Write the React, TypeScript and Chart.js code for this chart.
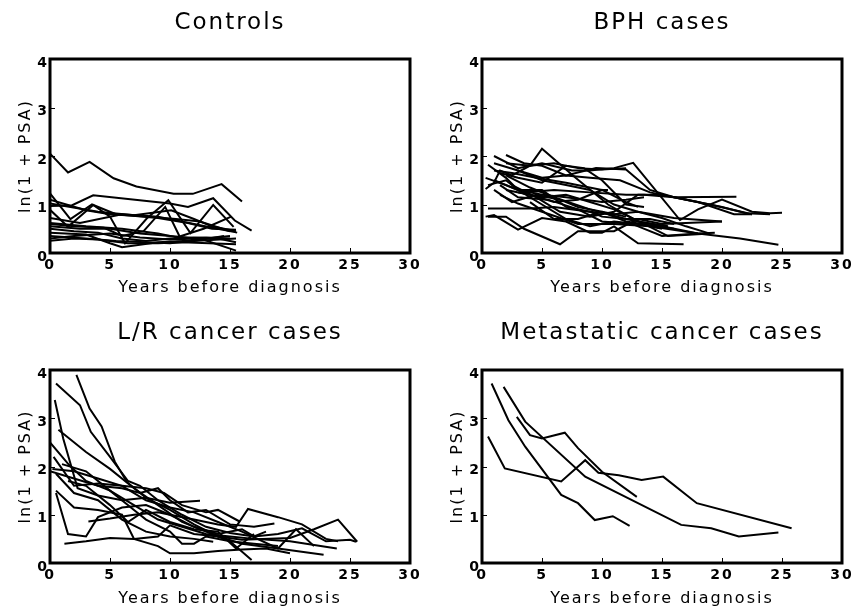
import React, { useEffect, useRef } from "react";
import { Chart, registerables } from "chart.js";

Chart.register(...registerables);

type Pt = [number, number];

const xTicks = [0, 5, 10, 15, 20, 25, 30];
const yTicks = [0, 1, 2, 3, 4];
const xAxisTitle = "Years before diagnosis";
const yAxisTitle = "ln(1 + PSA)";
const panelTitles = ["Controls", "BPH cases", "L/R cancer cases", "Metastatic cancer cases"];

const controlsLines: Pt[][] = [
  [[0, 2.05], [1.5, 1.66], [3.3, 1.88], [5.3, 1.54], [7.2, 1.37], [10.3, 1.22], [11.9, 1.22], [14.3, 1.42], [16, 1.06]],
  [[0, 1.23], [1.7, 0.7], [3.5, 1.0], [5.5, 0.8], [9, 0.72], [11.5, 0.62], [13.5, 0.5], [15.5, 0.48]],
  [[0, 0.97], [1.8, 0.98], [3.6, 1.19], [10, 1.02], [11.5, 0.95], [13.6, 1.13], [15.4, 0.67], [16.8, 0.46]],
  [[0, 1.1], [3, 0.88], [5, 0.8], [8, 0.75], [10.5, 0.7], [12.5, 0.65], [15, 0.45]],
  [[0, 0.89], [1.5, 0.54], [3.6, 0.99], [5, 0.75], [6.25, 0.2], [8.06, 0.71], [9.86, 1.09], [11.7, 0.41], [13.6, 0.99], [15.3, 0.54]],
  [[0, 0.6], [2, 0.55], [4.5, 0.52], [6, 0.35], [7.8, 0.45], [9.6, 0.95], [10.8, 0.34], [12.8, 0.5], [15.1, 0.75]],
  [[0, 1.02], [4, 0.85], [7, 0.78], [10.1, 0.88], [12, 0.7], [13.5, 0.55], [15.5, 0.45]],
  [[0, 0.72], [2.5, 0.62], [6, 0.8], [9, 0.75], [12, 0.6], [15.6, 0.42]],
  [[0, 0.5], [2, 0.45], [4, 0.42], [6, 0.3], [8, 0.25], [10, 0.3], [12, 0.25], [15.5, 0.3]],
  [[0, 0.42], [3, 0.38], [5, 0.2], [6, 0.12], [9, 0.22], [11, 0.25], [13, 0.3], [15, 0.35]],
  [[0, 0.35], [3, 0.3], [5.5, 0.25], [8, 0.22], [10, 0.2], [12, 0.25], [14.5, 0.35]],
  [[0, 0.25], [2, 0.3], [4, 0.28], [6.5, 0.2], [9, 0.2], [11, 0.22], [15.5, 0.18]],
  [[0, 0.55], [2.5, 0.5], [5, 0.5], [7.5, 0.4], [10, 0.35], [12.5, 0.3], [15.5, 0.05]],
  [[0, 0.3], [2, 0.35], [5, 0.4], [7.5, 0.32], [10, 0.28], [12, 0.32], [14, 0.3], [15.5, 0.22]],
  [[0, 0.62], [3, 0.55], [6, 0.5], [9, 0.4], [11, 0.3], [13, 0.32], [15, 0.3]],
];

const bphLines: Pt[][] = [
  [[0.3, 1.32], [1, 1.45], [1.5, 1.7], [2.5, 1.6], [4, 1.8], [5, 2.15], [7.8, 1.55], [10.5, 1.0], [13, 0.65], [15.5, 0.55]],
  [[0.5, 1.82], [2, 1.55], [3, 1.3], [5, 1.2], [7, 1.15], [10, 1.05], [12, 1.1], [13.5, 1.15]],
  [[1, 2.0], [3, 1.75], [5, 1.85], [7.5, 1.7], [9, 1.7], [11, 1.75], [12.6, 1.86], [16.5, 0.68], [18, 0.9], [20, 1.1], [22.5, 0.85], [24, 0.82], [25, 0.83]],
  [[2, 2.02], [3.5, 1.85], [5, 1.8], [7, 1.6], [9.5, 1.75], [12, 1.72], [14, 1.3], [16, 1.15], [21.2, 1.16]],
  [[1, 1.85], [3, 1.7], [5, 1.55], [7, 1.6], [9, 1.55], [11.5, 1.5], [14, 1.25], [17, 1.1], [20, 0.95], [22, 0.82], [24, 0.8]],
  [[0.3, 1.55], [2, 1.4], [3.5, 1.25], [6, 1.3], [9, 1.25], [12, 1.2], [13.5, 1.2], [16, 1.15], [19, 1.0], [22.5, 0.8]],
  [[0.5, 0.75], [2, 0.75], [3.5, 0.5], [6.5, 0.18], [8, 0.45], [11, 0.45], [13, 0.7], [15, 0.6], [20, 0.65]],
  [[0.5, 0.92], [4, 0.92], [6, 0.95], [9, 0.85], [11, 0.8], [13, 0.85], [15, 0.72], [17, 0.55], [19, 0.4]],
  [[0.3, 0.75], [1, 0.78], [3, 0.48], [5, 0.72], [7, 0.65], [9, 0.42], [10, 0.42], [11, 0.55], [13, 0.2], [16.8, 0.18]],
  [[1.5, 1.2], [3, 1.02], [5, 0.85], [8, 0.6], [11, 0.6], [14, 0.55], [18, 0.4], [19.4, 0.42]],
  [[2, 1.6], [4, 1.35], [6, 1.15], [9, 0.9], [12, 0.7], [15, 0.55], [18, 0.4], [21.5, 0.3], [24.7, 0.17]],
  [[1.5, 1.65], [3, 1.55], [5, 1.45], [7, 1.8], [8.5, 1.75], [10, 1.5], [12, 1.0], [13.5, 0.95]],
  [[1, 1.7], [2.5, 1.65], [4.5, 1.55], [7, 1.45], [10, 1.3], [10.5, 1.3]],
  [[2, 1.3], [4, 1.2], [6, 1.05], [8, 1.1], [10, 1.3], [12, 1.05], [13, 0.95]],
  [[1, 1.5], [3, 1.3], [5, 1.3], [7, 0.95], [9, 0.85], [10, 0.75], [12, 0.7], [14, 0.7], [16, 0.6]],
  [[3, 1.7], [5, 1.5], [7, 1.4], [9, 1.3], [11, 1.0], [13, 0.85], [16, 0.72], [20, 0.65]],
  [[1.5, 1.4], [3, 1.15], [5.5, 1.1], [8, 0.9], [10, 0.65], [12.5, 0.6], [15, 0.35], [18, 0.4]],
  [[2.5, 1.4], [4.5, 1.15], [6.5, 0.85], [9, 0.75], [11, 0.85], [13, 1.2], [15, 1.2], [18, 1.05], [21, 0.8], [22.5, 0.8]],
  [[0.5, 1.4], [2, 1.5], [3, 1.3], [5, 1.0], [7, 0.7], [9, 0.55], [11, 0.65], [13, 0.6], [15, 0.5]],
  [[2, 1.85], [4, 1.8], [6, 1.85], [8, 1.75], [10, 1.72], [12, 1.75]],
  [[3, 1.25], [5, 1.15], [7, 1.2], [9, 1.05], [11, 0.9], [13.5, 0.6], [15.5, 0.35], [19, 0.4]],
  [[1, 1.3], [2.5, 1.05], [4.5, 1.2], [6.5, 1.1], [8, 0.95], [10, 0.85], [12, 0.75]],
  [[4, 1.05], [6, 0.7], [8, 0.7], [10, 0.85], [12, 0.65], [14.5, 0.55], [16, 0.5]],
];

const lrLines: Pt[][] = [
  [[2.2, 3.9], [3.3, 3.2], [4.3, 2.83], [5.4, 2.1], [6.4, 1.68], [8, 1.35], [10, 1.1], [12, 0.8], [14, 0.55], [16, 0.4], [19, 0.3], [22.8, 0.17]],
  [[0.5, 3.72], [2.5, 3.27], [3.4, 2.72], [5, 2.2], [6.5, 1.7], [7.5, 1.6], [9, 1.3], [11, 1.0], [13, 0.75], [15, 0.62], [17, 0.55], [19, 0.6], [21, 0.72], [23, 0.45], [25, 0.48], [25.5, 0.44]],
  [[0.4, 3.38], [1.1, 2.58], [2.3, 1.55], [4, 1.4], [6, 1.3], [8, 1.35], [10, 1.25], [12.5, 1.29]],
  [[0.7, 2.76], [3, 2.3], [5, 1.95], [7, 1.55], [9, 1.2], [11, 0.85], [13, 0.65], [15, 0.45], [16.8, 0.06]],
  [[0, 2.5], [1.6, 2.03], [3, 1.7], [5, 1.5], [7, 1.2], [9, 0.9], [11, 0.75], [13, 0.6], [15, 0.55], [17, 0.5], [20, 0.45], [23.9, 0.3]],
  [[0, 1.9], [2, 1.75], [4, 1.6], [6, 1.55], [7.5, 1.45], [9, 1.55], [10, 1.3], [11.5, 1.05], [13, 1.1], [15, 0.8], [17, 0.75], [18.7, 0.82]],
  [[0.3, 2.2], [2, 1.6], [4, 1.65], [6, 1.6], [8, 1.55], [9.5, 1.45], [11, 1.2], [13, 1.05], [14, 1.1], [15.8, 0.86]],
  [[0.5, 1.45], [1.5, 0.6], [3, 0.55], [4, 0.95], [6, 1.15], [8, 1.2], [10, 1.0], [12, 0.75], [14, 0.6], [16, 0.7], [17, 0.55], [18, 0.65]],
  [[1.2, 0.4], [3, 0.45], [5, 0.52], [7, 0.5], [9, 0.55], [10, 0.78], [12, 0.6], [14, 0.55], [16, 0.48], [20, 0.52], [22, 0.7], [24, 0.9], [25.6, 0.44]],
  [[3.2, 0.86], [5, 0.92], [7, 1.0], [9, 1.05], [10, 1.0], [12, 0.9], [14, 0.8], [15.5, 0.75], [16.5, 1.12], [19, 0.95], [21, 0.8], [23, 0.5], [24, 0.45]],
  [[0.2, 1.95], [2, 1.9], [4, 1.75], [6, 1.6], [8, 1.3], [10, 1.15], [12, 1.05], [14, 0.85], [16, 0.65], [19, 0.3], [20.5, 0.7], [22, 0.35]],
  [[0.5, 1.85], [2, 1.45], [4, 1.3], [6, 0.9], [8, 0.65], [10, 0.55], [12, 0.5], [13.6, 0.44]],
  [[0.5, 1.5], [2, 1.15], [4, 1.1], [6, 1.0], [7, 0.5], [9, 0.35], [10, 0.2], [12, 0.2], [14, 0.25], [16, 0.28], [18, 0.3], [20, 0.2]],
  [[1, 2.05], [3, 1.9], [5, 1.5], [7, 1.1], [8, 0.9], [10, 0.65], [11, 0.4], [12, 0.4], [13, 0.55], [15, 0.45], [17, 0.4], [19, 0.35]],
  [[1.5, 1.7], [3, 1.6], [5, 1.2], [6.5, 0.85], [8, 1.1], [10, 0.85], [12, 0.7], [14, 0.65], [15.5, 0.3], [17, 0.6]],
];

const metLines: Pt[][] = [
  [[0.8, 3.72], [2.2, 2.96], [3.6, 2.41], [6.6, 1.41], [8, 1.24], [9.4, 0.89], [10.9, 0.97], [12.3, 0.77]],
  [[1.8, 3.65], [3.6, 2.93], [8.6, 1.79], [16.6, 0.79], [19.1, 0.72], [21.4, 0.55], [24.7, 0.63]],
  [[0.5, 2.62], [1.9, 1.96], [6.6, 1.69], [8.6, 2.13], [9.7, 1.87], [11.4, 1.82], [13.3, 1.72], [15.1, 1.79], [17.9, 1.24], [25.8, 0.72]],
  [[2.9, 3.03], [4, 2.65], [5, 2.58], [6.9, 2.7], [8, 2.38], [10, 1.89], [12.9, 1.37]],
];

const FONT = "'DejaVu Sans', sans-serif";

type PanelProps = {
  lines: Pt[][];
  title: string;
  left: number;
  top: number;
  width: number;
  height: number;
  topH: number;
  bottomH: number;
  rightPad: number;
  titlePad: number;
  xTitlePad: number;
};

function Panel(p: PanelProps) {
  const ref = useRef<HTMLCanvasElement>(null);
  useEffect(() => {
    const canvas = ref.current!;
    const framePlugin = {
      id: "frame",
      beforeDraw(chart: any) {
        chart.ctx.letterSpacing = "2px";
      },
      afterDraw(chart: any) {
        const { ctx, chartArea: a, scales } = chart;
        ctx.save();
        ctx.strokeStyle = "#000";
        ctx.lineWidth = 1;
        ctx.beginPath();
        for (const v of xTicks) {
          const px = Math.round(scales.x.getPixelForValue(v)) + 0.5;
          ctx.moveTo(px, a.bottom);
          ctx.lineTo(px, a.bottom - 5);
        }
        for (const v of yTicks) {
          const py = Math.round(scales.y.getPixelForValue(v)) + 0.5;
          ctx.moveTo(a.left, py);
          ctx.lineTo(a.left + 5, py);
        }
        ctx.stroke();
        ctx.lineWidth = 3;
        ctx.strokeRect(a.left, a.top, a.right - a.left, a.bottom - a.top);
        ctx.restore();
      },
    };
    const chart = new Chart(canvas, {
      type: "line",
      data: {
        datasets: p.lines.map((l) => ({
          data: l.map(([x, y]) => ({ x, y })),
          xAxisID: "x",
          yAxisID: "y",
          borderColor: "#000",
          borderWidth: 2,
          pointRadius: 0,
          fill: false,
          tension: 0,
        })),
      },
      options: {
        responsive: false,
        animation: false,
        layout: { padding: { left: 0, right: p.rightPad, top: 0, bottom: 0 } },
        plugins: {
          legend: { display: false },
          tooltip: { enabled: false },
          title: { display: false },
        },
        scales: {
          x: {
            type: "linear",
            position: "bottom",
            min: 0,
            max: 30,
            grid: { display: false, drawTicks: false },
            border: { display: false },
            ticks: {
              stepSize: 5,
              padding: 4,
              maxRotation: 0,
              color: "#000",
              font: { family: FONT, size: 14, weight: "bold" },
            },
            title: {
              display: true,
              text: xAxisTitle,
              color: "#000",
              font: { family: FONT, size: 16 },
              padding: { top: 0, bottom: p.xTitlePad },
            },
            afterFit: (s: any) => {
              s.height = p.bottomH;
              s.paddingLeft = 0;
              s.paddingRight = 0;
            },
          },
          xTop: {
            type: "linear",
            axis: "x",
            position: "top",
            min: 0,
            max: 30,
            grid: { display: false, drawTicks: false },
            border: { display: false },
            ticks: { display: false },
            title: {
              display: true,
              text: p.title,
              color: "#000",
              font: { family: FONT, size: 23 },
              padding: { top: p.titlePad, bottom: 0 },
            },
            afterFit: (s: any) => {
              s.height = p.topH;
              s.paddingLeft = 0;
              s.paddingRight = 0;
            },
          },
          y: {
            type: "linear",
            position: "left",
            min: 0,
            max: 4,
            grid: { display: false, drawTicks: false },
            border: { display: false },
            ticks: {
              stepSize: 1,
              padding: 1,
              labelOffset: 4,
              color: "#000",
              font: { family: FONT, size: 14, weight: "bold" },
            },
            title: {
              display: true,
              text: yAxisTitle,
              color: "#000",
              font: { family: FONT, size: 16 },
              padding: { top: 16, bottom: 0 },
            },
            afterFit: (s: any) => {
              s.width = 50;
              s.paddingTop = 0;
              s.paddingBottom = 0;
            },
          },
        },
      } as any,
      plugins: [framePlugin],
    });
    return () => chart.destroy();
  }, []);
  return (
    <canvas
      ref={ref}
      width={p.width}
      height={p.height}
      style={{ position: "absolute", left: p.left, top: p.top, width: p.width, height: p.height }}
    />
  );
}

export default function App() {
  return (
    <div style={{ position: "absolute", left: 0, top: 0, width: 851, height: 608, background: "#fff" }}>
      <Panel lines={controlsLines} title={panelTitles[0]} left={0} top={0} width={425} height={304} topH={59} bottomH={51} rightPad={15} titlePad={8.8} xTitlePad={6.8} />
      <Panel lines={bphLines} title={panelTitles[1]} left={432} top={0} width={419} height={304} topH={59} bottomH={51} rightPad={9} titlePad={8.8} xTitlePad={6.8} />
      <Panel lines={lrLines} title={panelTitles[2]} left={0} top={304} width={425} height={304} topH={66} bottomH={45} rightPad={15} titlePad={14.8} xTitlePad={0} />
      <Panel lines={metLines} title={panelTitles[3]} left={432} top={304} width={419} height={304} topH={66} bottomH={45} rightPad={9} titlePad={14.8} xTitlePad={0} />
    </div>
  );
}
